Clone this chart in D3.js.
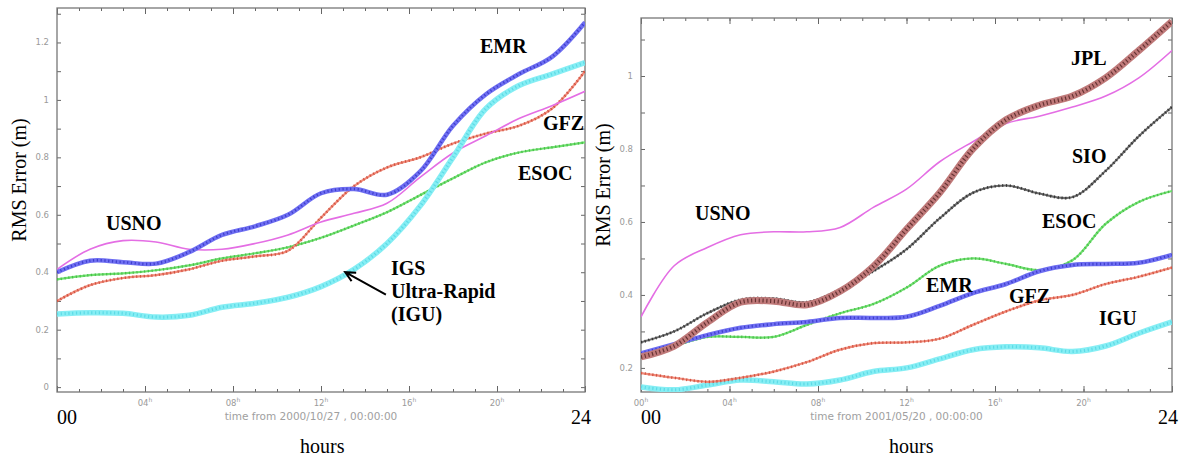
<!DOCTYPE html>
<html><head><meta charset="utf-8">
<script src="https://cdn.jsdelivr.net/npm/d3@7"></script>
<style>body{margin:0;background:#fff}svg{display:block}</style>
</head><body>
<svg id="c" width="1184" height="459"></svg>
<script>
const hours = [0,1.5,3,4.5,6,7.5,9,10.5,12,13.5,15,16.5,18,19.5,21,22.5,24];

// Left panel (2000/10/27)
const L_USNO = [0.41,0.48,0.51,0.505,0.48,0.48,0.50,0.53,0.575,0.605,0.64,0.73,0.815,0.875,0.935,0.98,1.03];
const L_EMR  = [0.40,0.44,0.435,0.43,0.47,0.53,0.56,0.60,0.675,0.69,0.67,0.75,0.91,1.02,1.09,1.15,1.27];
const L_GFZ  = [0.30,0.355,0.38,0.39,0.41,0.44,0.455,0.475,0.59,0.70,0.765,0.80,0.848,0.883,0.91,0.97,1.10];
const L_ESOC = [0.375,0.39,0.396,0.407,0.424,0.448,0.466,0.487,0.52,0.563,0.609,0.668,0.727,0.783,0.817,0.835,0.852];
const L_IGU  = [0.255,0.259,0.257,0.244,0.25,0.278,0.292,0.313,0.35,0.41,0.50,0.63,0.80,0.97,1.05,1.09,1.13];

// Right panel (2001/05/20)
const R_USNO = [0.34,0.48,0.53,0.565,0.573,0.573,0.585,0.64,0.69,0.765,0.82,0.87,0.89,0.915,0.945,0.995,1.07];
const R_JPL  = [0.23,0.26,0.325,0.38,0.383,0.373,0.41,0.478,0.58,0.68,0.80,0.88,0.92,0.945,0.995,1.07,1.15];
const R_SIO  = [0.27,0.30,0.35,0.387,0.39,0.38,0.415,0.465,0.525,0.61,0.68,0.70,0.678,0.668,0.74,0.835,0.915];
const R_ESOC = [0.236,0.26,0.285,0.285,0.285,0.318,0.35,0.375,0.42,0.48,0.50,0.485,0.468,0.495,0.595,0.655,0.685];
const R_EMR  = [0.24,0.265,0.29,0.31,0.32,0.326,0.337,0.337,0.34,0.37,0.405,0.43,0.465,0.482,0.485,0.488,0.51];
const R_GFZ  = [0.186,0.173,0.162,0.173,0.19,0.216,0.25,0.268,0.27,0.28,0.318,0.355,0.385,0.40,0.43,0.45,0.475];
const R_IGU  = [0.148,0.14,0.153,0.167,0.162,0.156,0.167,0.19,0.2,0.225,0.25,0.258,0.255,0.245,0.26,0.295,0.326];

const xTickLabelsL = ["","04","08","12","16","20",""];
const xTickLabelsR = ["00","04","08","12","16","20",""];
const yTicksL = [0,0.2,0.4,0.6,0.8,1,1.2];
const yTicksR = [0.2,0.4,0.6,0.8,1];
const titleL = "time from 2000/10/27 , 00:00:00";
const titleR = "time from 2001/05/20 , 00:00:00";

const styles = {
  USNO:{base:"#e46ee4",w:1.6,dash:null},
  EMR:{base:"#6f6ff2",w:4.5,dash:"#2f2fc0",dw:2.6},
  GFZ:{base:"#f08a7a",w:2.2,dash:"#c8402c",dw:2.8},
  ESOC:{base:"#6fe06f",w:2.2,dash:"#3cb43c",dw:2.6},
  IGU:{base:"#86eef4",w:5.5,dash:"#4fd4e2",dw:3},
  JPL:{base:"#c07a7a",w:7,dash:"#4a1c1c",dw:4},
  SIO:{base:"#6a6a6a",w:2,dash:"#222",dw:3}
};

const svg = d3.select("#c");
const serif = "'Liberation Serif','Times New Roman',Times,serif";

function panel(cfg){
  const x = d3.scaleLinear().domain([0,24]).range([cfg.x0,cfg.x1]);
  const y = d3.scaleLinear().domain(cfg.ydom).range([cfg.y1,cfg.y0]);
  const g = svg.append("g");
  const clipId = "clip"+cfg.id;
  svg.append("clipPath").attr("id",clipId).append("rect")
    .attr("x",cfg.x0).attr("y",cfg.y0).attr("width",cfg.x1-cfg.x0).attr("height",cfg.y1-cfg.y0);

  const xMajor = d3.range(0,25,4), xMinor = d3.range(0,25,1);
  const yMinor = d3.range(Math.ceil(cfg.ydom[0]*10)/10, cfg.ydom[1]+1e-9, 0.1).map(v=>+v.toFixed(2));
  const axStyle = s=>s.call(a=>a.select(".domain").remove()).selectAll("line").attr("stroke","#666");
  g.append("g").attr("transform",`translate(0,${cfg.y1})`).call(d3.axisBottom(x).tickValues(xMinor).tickSize(-3).tickFormat("")).call(axStyle);
  g.append("g").attr("transform",`translate(0,${cfg.y1})`).call(d3.axisBottom(x).tickValues(xMajor).tickSize(-6).tickFormat("")).call(axStyle);
  g.append("g").attr("transform",`translate(0,${cfg.y0})`).call(d3.axisTop(x).tickValues(xMinor).tickSize(-3).tickFormat("")).call(axStyle);
  g.append("g").attr("transform",`translate(0,${cfg.y0})`).call(d3.axisTop(x).tickValues(xMajor).tickSize(-6).tickFormat("")).call(axStyle);
  g.append("g").attr("transform",`translate(${cfg.x0},0)`).call(d3.axisLeft(y).tickValues(yMinor).tickSize(-4).tickFormat("")).call(axStyle);
  g.append("g").attr("transform",`translate(${cfg.x1},0)`).call(d3.axisRight(y).tickValues(yMinor).tickSize(-4).tickFormat("")).call(axStyle);

  g.append("rect").attr("x",cfg.x0).attr("y",cfg.y0).attr("width",cfg.x1-cfg.x0).attr("height",cfg.y1-cfg.y0)
    .attr("fill","none").attr("stroke","#777").attr("stroke-width",1.3);

  g.selectAll(".yl").data(cfg.yticks).join("text")
    .attr("x",cfg.x0-8).attr("y",d=>y(d)+3).attr("text-anchor","end")
    .attr("font-family","DejaVu Sans").attr("font-size",8.5).attr("fill","#9a9a9a")
    .text(d=>d3.format("")(+d.toFixed(1)));
  const xl = g.selectAll(".xl").data(xMajor.map((h,i)=>({h,t:cfg.xlabels[i]})).filter(d=>d.t)).join("text")
    .attr("x",d=>x(d.h)).attr("y",cfg.y1+14).attr("text-anchor","middle")
    .attr("font-family","DejaVu Sans").attr("font-size",8.5).attr("fill","#9a9a9a");
  xl.append("tspan").text(d=>d.t);
  xl.append("tspan").attr("dy",-4).attr("font-size",6).text("h");
  g.append("text").attr("x",(cfg.x0+cfg.x1)/2-10).attr("y",cfg.y1+28).attr("text-anchor","middle")
    .attr("font-family","DejaVu Sans").attr("font-size",10.5).attr("fill","#a0a0a0").text(cfg.title);

  const line = d3.line().x((d,i)=>x(hours[i])).y(d=>y(d)).curve(d3.curveCatmullRom.alpha(0.5));
  const lg = g.append("g").attr("clip-path",`url(#${clipId})`);
  cfg.series.forEach(([name,vals])=>{
    const st = styles[name];
    lg.append("path").attr("d",line(vals)).attr("fill","none").attr("stroke",st.base)
      .attr("stroke-width",st.w).attr("stroke-linejoin","round");
    if(st.dash){
      lg.append("path").attr("d",line(vals)).attr("fill","none").attr("stroke",st.dash)
        .attr("stroke-width",st.dw).attr("stroke-dasharray","1.2,2.6").attr("opacity",0.75);
    }
  });

  svg.append("text").attr("transform",`translate(${cfg.x0-31},${(cfg.y0+cfg.y1)/2-20}) rotate(-90)`)
    .attr("text-anchor","middle").attr("font-family",serif).attr("font-size",20).text("RMS Error (m)");
  svg.append("text").attr("x",x(0)).attr("y",424).attr("font-family",serif).attr("font-size",20).text("00");
  svg.append("text").attr("x",x(24)+6).attr("y",424).attr("text-anchor","end").attr("font-family",serif).attr("font-size",20).text("24");
  svg.append("text").attr("x",cfg.hoursX).attr("y",453).attr("font-family",serif).attr("font-size",20).text("hours");

  cfg.labels.forEach(l=>{
    const t = svg.append("text").attr("font-family",serif).attr("font-weight","bold").attr("font-size",20);
    l.lines.forEach((s,i)=>t.append("tspan").attr("x",l.x).attr("y",l.y+i*23).text(s));
  });
  return {x,y};
}

const left = panel({id:"L",x0:57,x1:585,y0:8,y1:392,ydom:[-0.017,1.32],yticks:yTicksL,
  xlabels:xTickLabelsL,title:titleL,hoursX:300,
  series:[["ESOC",L_ESOC],["GFZ",L_GFZ],["USNO",L_USNO],["IGU",L_IGU],["EMR",L_EMR]],
  labels:[{x:106,y:230,lines:["USNO"]},{x:480,y:53,lines:["EMR"]},{x:543,y:130,lines:["GFZ"]},
          {x:518,y:180,lines:["ESOC"]},{x:391,y:275,lines:["IGS","Ultra-Rapid","(IGU)"]}]});

panel({id:"R",x0:641,x1:1172,y0:18,y1:392,ydom:[0.134,1.159],yticks:yTicksR,
  xlabels:xTickLabelsR,title:titleR,hoursX:889,
  series:[["IGU",R_IGU],["GFZ",R_GFZ],["ESOC",R_ESOC],["EMR",R_EMR],["USNO",R_USNO],["SIO",R_SIO],["JPL",R_JPL]],
  labels:[{x:695,y:220,lines:["USNO"]},{x:1071,y:65,lines:["JPL"]},{x:1072,y:163,lines:["SIO"]},
          {x:1042,y:228,lines:["ESOC"]},{x:926,y:292,lines:["EMR"]},{x:1009,y:303,lines:["GFZ"]},
          {x:1099,y:325,lines:["IGU"]}]});

const tip = [left.x(13.1), left.y(0.40)], tail = [left.x(14.95), left.y(0.322)];
const ang = Math.atan2(tail[1]-tip[1], tail[0]-tip[0]);
const ah = 11, spread = 0.45;
svg.append("path").attr("fill","none").attr("stroke","#000").attr("stroke-width",2)
  .attr("d",`M${tail[0]},${tail[1]}L${tip[0]},${tip[1]}`+
    `M${tip[0]+ah*Math.cos(ang+spread)},${tip[1]+ah*Math.sin(ang+spread)}L${tip[0]},${tip[1]}`+
    `L${tip[0]+ah*Math.cos(ang-spread)},${tip[1]+ah*Math.sin(ang-spread)}`);
</script>
</body></html>
